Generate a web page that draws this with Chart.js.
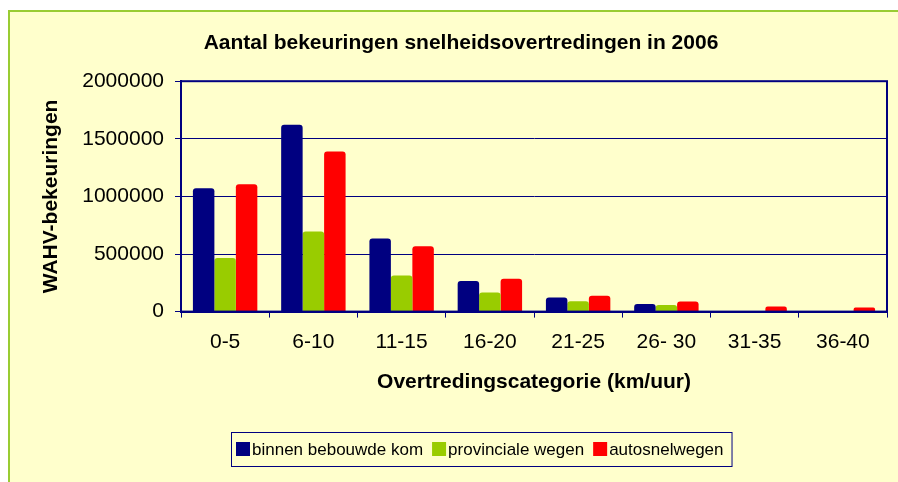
<!DOCTYPE html>
<html>
<head>
<meta charset="utf-8">
<script src="https://cdn.jsdelivr.net/npm/chart.js"></script>
<style>
  html, body { margin: 0; padding: 0; background: #ffffff; }
  #wrap { width: 898px; height: 482px; }
</style>
</head>
<body>
<div id="wrap"><canvas id="boeteChart" width="898" height="482"></canvas></div>
<script>
const categories = ['0-5', '6-10', '11-15', '16-20', '21-25', '26- 30', '31-35', '36-40'];
const binnenKom = [1071000, 1621000, 635000, 265000, 122000, 67000, 0, 0];
const provincialeWegen = [465000, 696000, 314000, 166000, 90000, 58000, 0, 0];
const autosnelwegen = [1106000, 1389000, 568000, 285000, 137000, 87000, 44000, 35000];
const yTicks = [0, 500000, 1000000, 1500000, 2000000];

const fontFam = "'Liberation Sans', Arial, sans-serif";
const navy = '#000080';

// achtergrond, kader en legenda zelf tekenen
const decorPlugin = {
    id: 'decor',
    beforeDraw(chart) {
        const c = chart.ctx;
        c.save();
        c.fillStyle = '#ffffff';
        c.fillRect(0, 0, chart.width, chart.height);
        c.fillStyle = '#ffffcc';
        c.fillRect(8, 10, chart.width - 8, chart.height - 10);
        c.strokeStyle = '#99cc33';
        c.lineWidth = 2;
        c.beginPath();
        c.moveTo(9, chart.height);
        c.lineTo(9, 11);
        c.lineTo(chart.width, 11);
        c.stroke();
        c.restore();
    },
    afterDraw(chart) {
        const c = chart.ctx;
        const a = chart.chartArea;
        c.save();
        c.strokeStyle = navy;
        c.lineWidth = 2;
        c.strokeRect(a.left, a.top, a.right - a.left, a.bottom - a.top);

        // legenda
        c.font = '17px ' + fontFam;
        c.textBaseline = 'middle';
        const boxLeft = 231, boxTop = 432, boxH = 34;
        const midY = boxTop + boxH / 2;
        let x = boxLeft + 5;
        chart.data.datasets.forEach((ds, i) => {
            c.fillStyle = ds.backgroundColor;
            c.fillRect(x, midY - 7, 14, 14);
            x += 16;
            c.fillStyle = '#000000';
            c.fillText(ds.label, x, midY + 1);
            x += c.measureText(ds.label).width;
            if (i < chart.data.datasets.length - 1) x += 9;
        });
        c.strokeStyle = navy;
        c.lineWidth = 1;
        c.strokeRect(boxLeft + 0.5, boxTop + 0.5, x + 8 - boxLeft, boxH);
        c.restore();
    }
};

new Chart(document.getElementById('boeteChart').getContext('2d'), {
    type: 'bar',
    data: {
        labels: categories,
        datasets: [
            { label: 'binnen bebouwde kom', data: binnenKom, backgroundColor: '#000080' },
            { label: 'provinciale wegen', data: provincialeWegen, backgroundColor: '#99cc00' },
            { label: 'autosnelwegen', data: autosnelwegen, backgroundColor: '#ff0000' }
        ]
    },
    options: {
        responsive: false,
        animation: false,
        layout: { padding: { left: 35, right: 11, top: 10, bottom: 83 } },
        datasets: {
            bar: { categoryPercentage: 0.73, barPercentage: 1.0, borderRadius: 3 }
        },
        plugins: {
            legend: { display: false },
            tooltip: { enabled: false },
            title: {
                display: true,
                text: 'Aantal bekeuringen snelheidsovertredingen in 2006',
                color: '#000000',
                font: { family: fontFam, size: 21, weight: 'bold' },
                padding: { top: 21, bottom: 25 }
            }
        },
        scales: {
            x: {
                grid: { display: true, drawOnChartArea: false, drawTicks: true, tickLength: 6, color: navy, offset: true },
                border: { color: navy, width: 2 },
                ticks: { color: '#000000', font: { family: fontFam, size: 21 }, padding: 12, maxRotation: 0 },
                title: {
                    display: true,
                    text: 'Overtredingscategorie (km/uur)',
                    color: '#000000',
                    font: { family: fontFam, size: 21, weight: 'bold' },
                    padding: { top: 3, bottom: 4 }
                }
            },
            y: {
                min: 0,
                max: 2000000,
                afterBuildTicks(scale) { scale.ticks = yTicks.map(v => ({ value: v })); },
                afterFit(scale) { scale.width = 146; },
                grid: { color: navy, lineWidth: 1, drawTicks: true, tickLength: 6 },
                border: { color: navy, width: 2 },
                ticks: {
                    color: '#000000',
                    font: { family: fontFam, size: 21 },
                    padding: 11,
                    callback: v => String(v)
                },
                title: {
                    display: true,
                    text: 'WAHV-bekeuringen',
                    color: '#000000',
                    font: { family: fontFam, size: 21, weight: 'bold' },
                    padding: { top: 4, bottom: 4 }
                }
            }
        }
    },
    plugins: [decorPlugin]
});
</script>
</body>
</html>
